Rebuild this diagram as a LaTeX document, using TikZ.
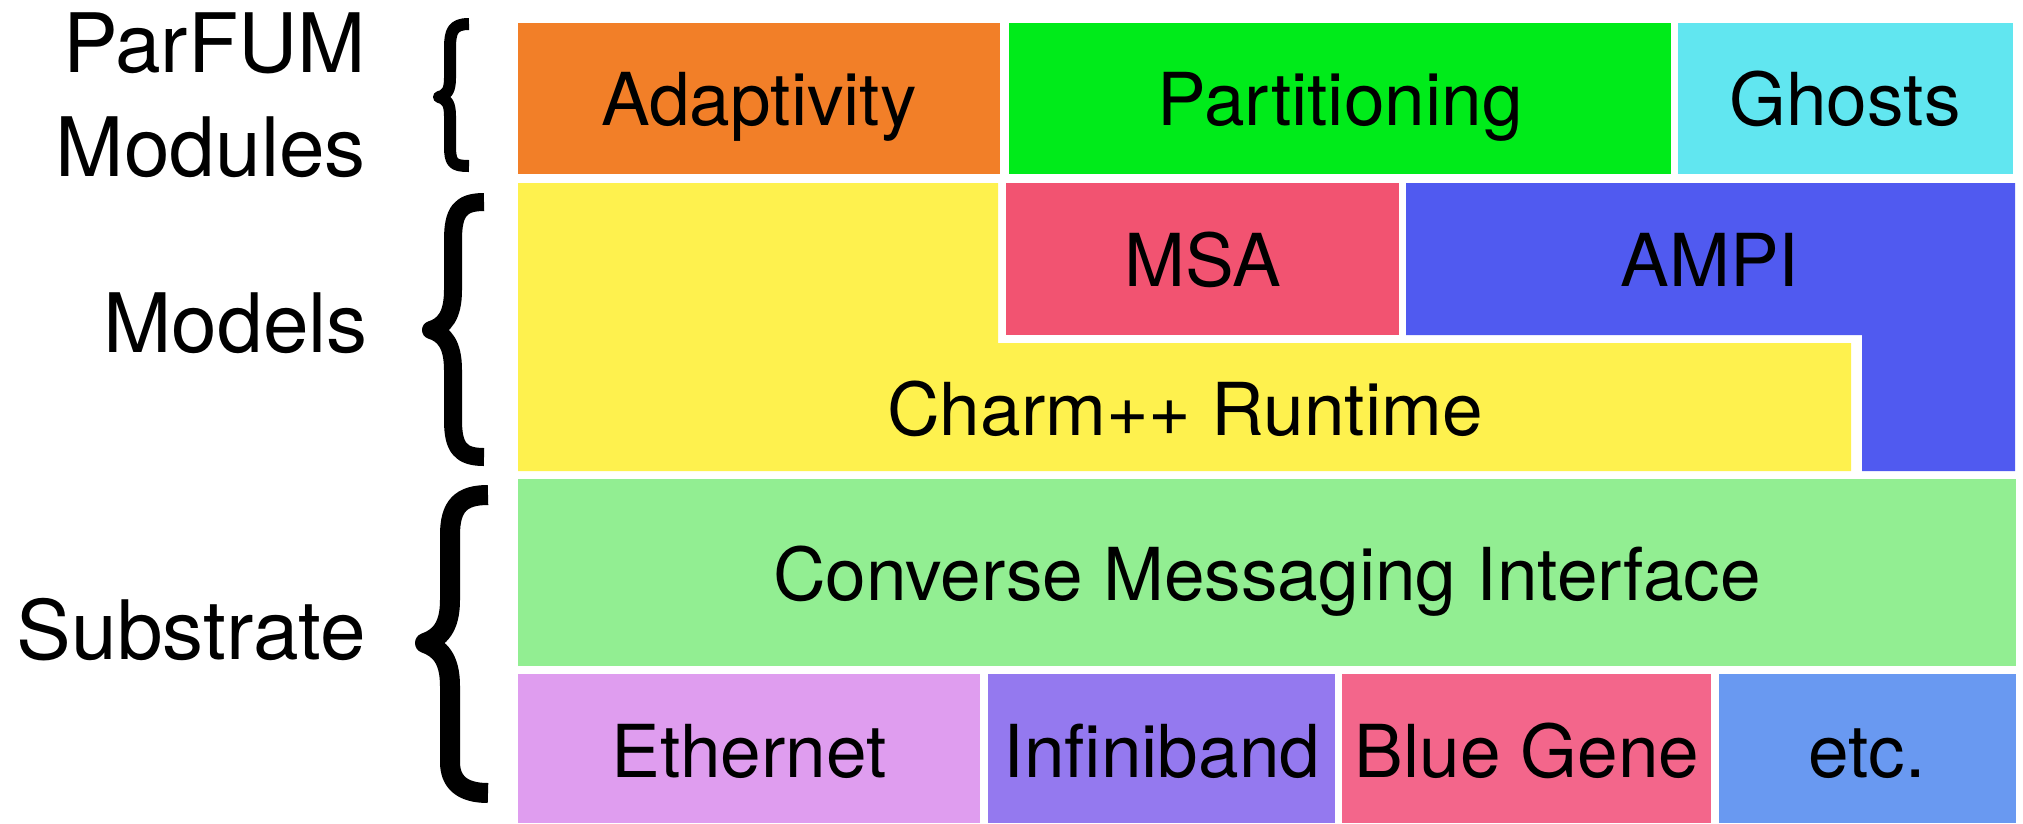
\documentclass[tikz,border=0pt]{standalone}
\usepackage{fontspec}
\setmainfont{TeX Gyre Heros}

\definecolor{adaptorange}{RGB}{242,127,40}
\definecolor{partgreen}{RGB}{0,235,26}
\definecolor{ghostcyan}{RGB}{97,230,240}
\definecolor{charmyellow}{RGB}{254,241,78}
\definecolor{msared}{RGB}{242,83,113}
\definecolor{ampiblue}{RGB}{80,90,240}
\definecolor{conversegreen}{RGB}{146,238,146}
\definecolor{ethviolet}{RGB}{223,157,239}
\definecolor{ibpurple}{RGB}{148,121,239}
\definecolor{bgpink}{RGB}{243,102,139}
\definecolor{etcblue}{RGB}{105,153,241}

\begin{document}
\begin{tikzpicture}[
		x=1pt, y=-1pt,
		blocktext/.style={inner sep=0pt, text height=52.5pt, text depth=0pt,
			font=\fontsize{73}{80}\selectfont},
		sidetext/.style={anchor=east, inner sep=0pt, text height=59pt, text depth=0pt,
			font=\fontsize{82}{90}\selectfont},
		curly/.style={draw=black, line cap=butt, line join=round},
	]
		\useasboundingbox (0,0) rectangle (2023,823);

		% top row: ParFUM modules
		\fill[adaptorange] (518,23) rectangle (1000,174);
		\fill[partgreen] (1009,23) rectangle (1671,174);
		\fill[ghostcyan] (1678,23) rectangle (2013,174);
		\node[blocktext] (adaptivity) at (759,99) {Adaptivity};
		\node[blocktext] (partitioning) at (1340,99) {Partitioning};
		\node[blocktext] (ghosts) at (1845,99) {Ghosts};

		% models: Charm++ wraps round MSA, AMPI hangs down on the right
		\fill[charmyellow] (518,183) -- (998,183) -- (998,343) -- (1851,343)
			-- (1851,471) -- (518,471) -- cycle;
		\fill[msared] (1006,183) rectangle (1399,335);
		\fill[ampiblue] (1406,183) -- (2015,183) -- (2015,471) -- (1862,471)
			-- (1862,335) -- (1406,335) -- cycle;
		\node[blocktext] (msa) at (1203,260) {MSA};
		\node[blocktext] (ampi) at (1710,260) {AMPI};
		\node[blocktext] (charm) at (1185,409) {Charm++ Runtime};

		% substrate
		\fill[conversegreen] (518,479) rectangle (2016,666);
		\node[blocktext] (converse) at (1267,574) {Converse Messaging Interface};

		\fill[ethviolet] (518,674) rectangle (980,823);
		\fill[ibpurple] (988,674) rectangle (1335,823);
		\fill[bgpink] (1342,674) rectangle (1711,823);
		\fill[etcblue] (1719,674) rectangle (2016,823);
		\node[blocktext] (ethernet) at (749,751) {Ethernet};
		\node[blocktext] (infiniband) at (1162,751) {Infiniband};
		\node[blocktext] (bluegene) at (1527,751) {Blue Gene};
		\node[blocktext] (etcnode) at (1867,751) {etc.};

		% layer names
		\node[sidetext] (parfum) at (366,43) {ParFUM};
		\node[sidetext] (modules) at (366,147) {Modules};
		\node[sidetext] (models) at (368,323) {Models};
		\node[sidetext] (substrate) at (366,630) {Substrate};

		% braces
		\draw[curly, line width=12] (469,24) .. controls (453,24) and (450,31) .. (450,48)
			-- (450,78) .. controls (450,90) and (447,95) .. (439,97)
			.. controls (447,99) and (450,104) .. (450,116)
			-- (450,146) .. controls (450,163) and (453,166) .. (469,166);
		\draw[curly, line width=18] (484,202) .. controls (460,202) and (453,212) .. (453,240)
			-- (453,290) .. controls (453,316) and (444,326) .. (431,330)
			.. controls (444,334) and (453,344) .. (453,370)
			-- (453,420) .. controls (453,447) and (460,457) .. (484,457);
		\draw[curly, line width=20] (488,495) .. controls (461,495) and (450,506) .. (450,535)
			-- (450,600) .. controls (450,628) and (439,638) .. (425,643)
			.. controls (439,648) and (450,658) .. (450,686)
			-- (450,762) .. controls (450,781) and (461,793) .. (488,793);
\end{tikzpicture}
\end{document}
